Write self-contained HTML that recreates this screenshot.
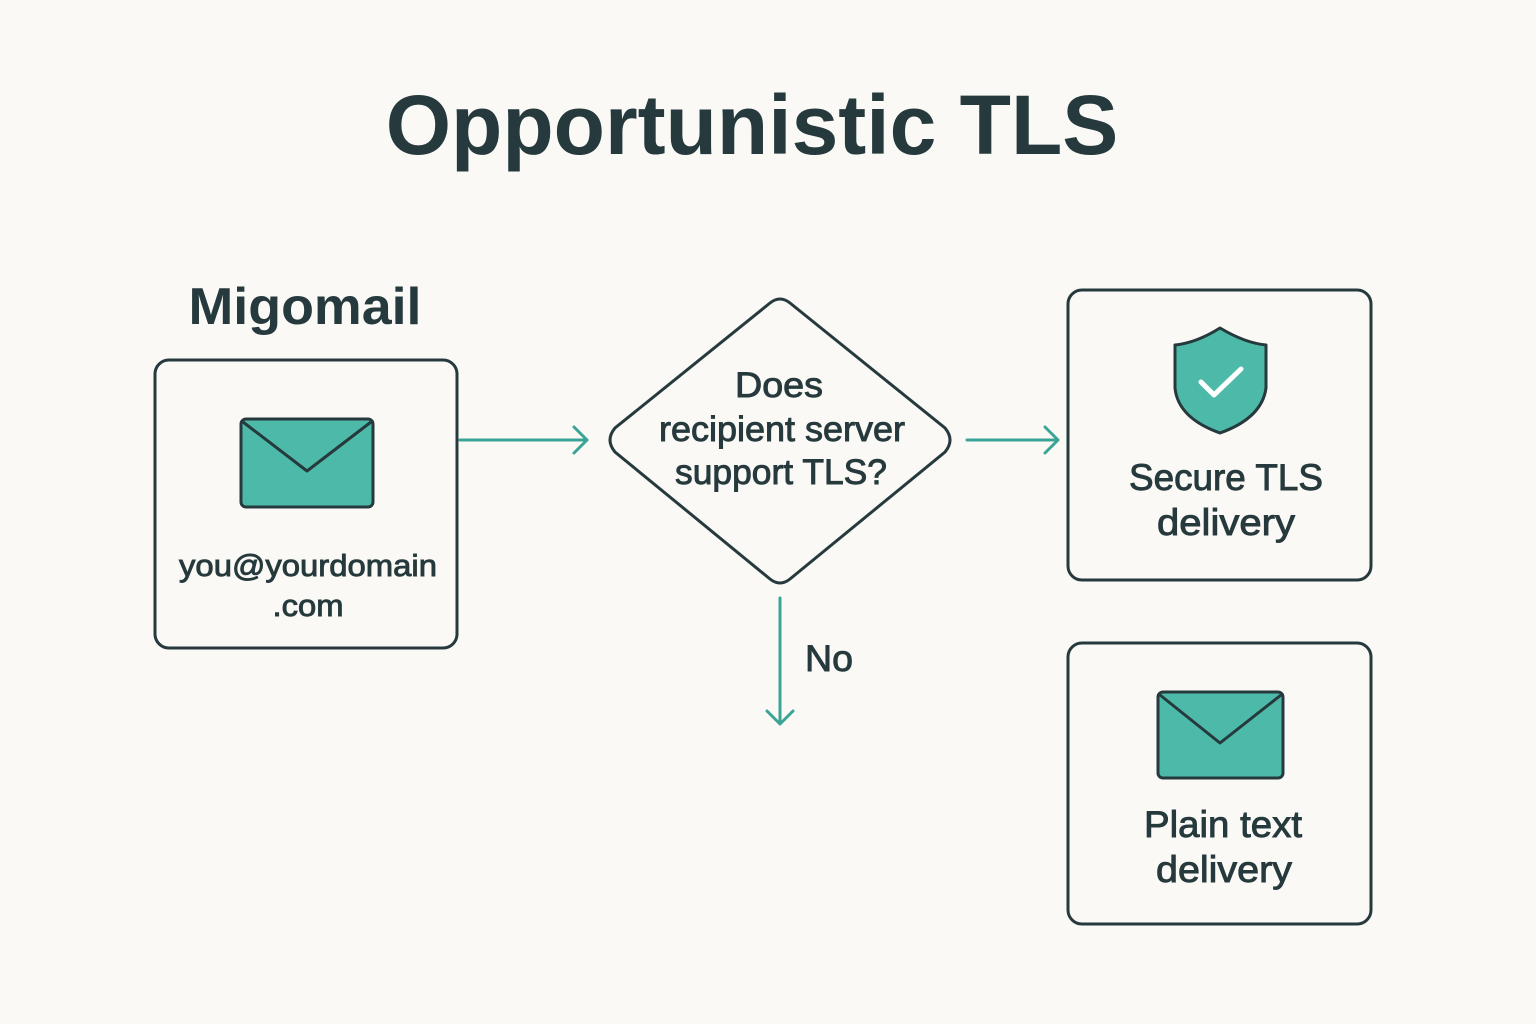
<!DOCTYPE html>
<html><head><meta charset="utf-8"><style>
html,body{margin:0;padding:0;background:#faf9f6;}
svg{display:block}
text{font-family:"Liberation Sans","DejaVu Sans",sans-serif;fill:#263a3d}
.m{stroke:#263a3d;stroke-width:0.9}
</style></head><body>
<svg width="1536" height="1024" viewBox="0 0 1536 1024" xmlns="http://www.w3.org/2000/svg">
<rect width="1536" height="1024" fill="#faf9f6"/>
<text x="752" y="154" font-size="84" font-weight="bold" text-anchor="middle">Opportunistic TLS</text>
<text x="305" y="324" font-size="52" font-weight="bold" text-anchor="middle" textLength="233" lengthAdjust="spacingAndGlyphs">Migomail</text>
<g fill="none" stroke="#263a3d" stroke-width="3">
<rect x="155" y="360" width="302" height="288" rx="14"/>
<rect x="1068" y="290" width="303" height="290" rx="14"/>
<rect x="1068" y="643" width="303" height="281" rx="14"/>
<path d="M770 303 Q780 295 790 303 L945 428 Q955 440 945 452 L790 579 Q780 587 770 579 L615 452 Q605 440 615 428 Z"/>
</g>
<g stroke="#263a3d" stroke-width="3" stroke-linejoin="round">
<rect x="241" y="419" width="132" height="88" rx="5" fill="#4dbaa9"/>
<path d="M243 422 L307 471 L371 422" fill="none"/>
<rect x="1158" y="692" width="125" height="86" rx="5" fill="#4dbaa9"/>
<path d="M1160 695 L1220 743 L1281 695" fill="none"/>
<path d="M1220 328 Q1245 343 1266 345 L1266 388 Q1262 418 1220 433 Q1178 418 1175 388 L1175 345 Q1196 343 1220 328 Z" fill="#4dbaa9"/>
</g>
<path d="M1201 382 L1214 395 L1241 369" fill="none" stroke="#fff" stroke-width="5" stroke-linecap="round" stroke-linejoin="round"/>
<g fill="none" stroke="#3aa597" stroke-width="3" stroke-linecap="round" stroke-linejoin="round">
<path d="M460 440 L587 440 M574 427 L587 440 L574 453"/>
<path d="M967 440 L1058 440 M1045 427 L1058 440 L1045 453"/>
<path d="M780 598 L780 724 M767 711 L780 724 L793 711"/>
</g>
<g class="m">
<text x="308" y="576" font-size="31" text-anchor="middle" textLength="258" lengthAdjust="spacingAndGlyphs">you@yourdomain</text>
<text x="308" y="616" font-size="31" text-anchor="middle" textLength="71" lengthAdjust="spacingAndGlyphs">.com</text>
<text x="779" y="397" font-size="35" text-anchor="middle" textLength="88" lengthAdjust="spacingAndGlyphs">Does</text>
<text x="782" y="441" font-size="35" text-anchor="middle" textLength="246" lengthAdjust="spacingAndGlyphs">recipient server</text>
<text x="781" y="484" font-size="35" text-anchor="middle" textLength="212" lengthAdjust="spacingAndGlyphs">support TLS?</text>
<text x="1226" y="490" font-size="37" text-anchor="middle" textLength="194" lengthAdjust="spacingAndGlyphs">Secure TLS</text>
<text x="1226" y="535" font-size="37" text-anchor="middle" textLength="138" lengthAdjust="spacingAndGlyphs">delivery</text>
<text x="1223" y="837" font-size="37" text-anchor="middle" textLength="158" lengthAdjust="spacingAndGlyphs">Plain text</text>
<text x="1224" y="882" font-size="37" text-anchor="middle" textLength="136" lengthAdjust="spacingAndGlyphs">delivery</text>
<text x="805" y="671" font-size="37" textLength="48" lengthAdjust="spacingAndGlyphs">No</text>
</g>
</svg>
</body></html>
